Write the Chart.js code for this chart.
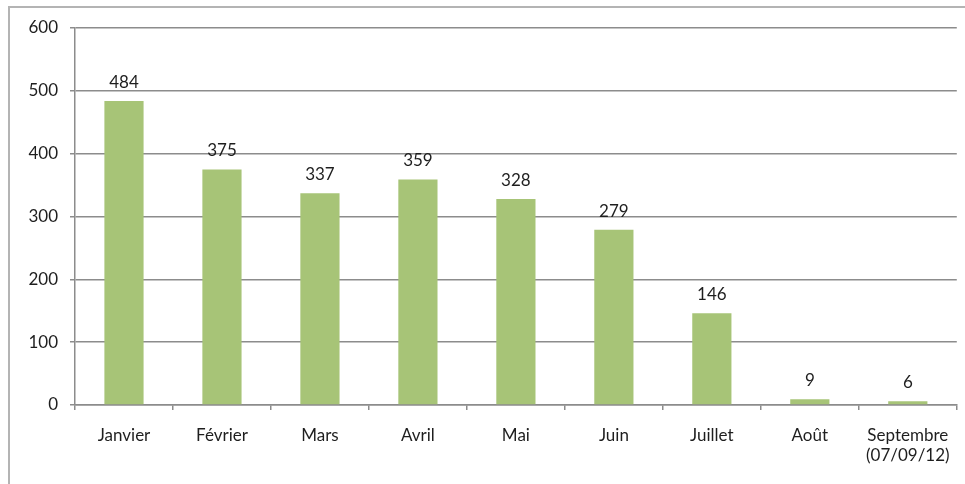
<!DOCTYPE html>
<html>
<head>
<meta charset="utf-8">
<script src="https://cdn.jsdelivr.net/npm/chart.js@4/dist/chart.umd.min.js"></script>
<style>
  html, body { margin: 0; padding: 0; background: #fff; }
  #frame { position: absolute; left: 0; top: 0; width: 965px; height: 484px; }
  #box { position: absolute; left: 8px; top: 6px; width: 980px; height: 500px;
         border-left: 2px solid #b4b4b4; border-top: 2px solid #b4b4b4; }
  canvas { position: absolute; left: 0; top: 0; }
</style>
</head>
<body>
<div id="frame">
  <div id="box"></div>
  <canvas id="canvas" width="965" height="484"></canvas>
</div>
<script>
var months = ["Janvier", "Février", "Mars", "Avril", "Mai", "Juin", "Juillet", "Août", ["Septembre", "(07/09/12)"]]
var counts = [484, 375, 337, 359, 328, 279, 146, 9, 6]
var yTicks = [0, 100, 200, 300, 400, 500, 600]

var fontFamily = "Lato, 'Open Sans', sans-serif"

// value labels above each bar
var barLabels = {
  id: 'barLabels',
  afterDatasetsDraw: function(chart){
    var c = chart.ctx
    var meta = chart.getDatasetMeta(0)
    c.save()
    c.font = "17px " + fontFamily
    c.fillStyle = "#1e1e1e"
    c.textAlign = "center"
    c.textBaseline = "bottom"
    meta.data.forEach(function(bar, i){
      c.fillText(counts[i], bar.x, bar.y - 10)
    })
    c.restore()
  }
}

var ctx = document.getElementById("canvas")
var myChart = new Chart(ctx, {
  type: 'bar',
  data: {
    labels: months,
    datasets: [{
      data: counts,
      backgroundColor: "#a7c477",
      borderWidth: 0,
      barPercentage: 0.4,
      categoryPercentage: 1.0
    }]
  },
  options: {
    responsive: false,
    animation: false,
    layout: { padding: { left: 0, right: 7, top: 28, bottom: 0 } },
    plugins: { legend: { display: false }, tooltip: { enabled: false } },
    scales: {
      x: {
        offset: true,
        grid: { offset: true, drawOnChartArea: false, drawTicks: true, tickLength: 5, color: "#8c8c8c", lineWidth: 1.5 },
        border: { color: "#8c8c8c", width: 1.5 },
        ticks: { color: "#1e1e1e", font: { size: 17, family: fontFamily }, padding: 15, maxRotation: 0, autoSkip: false },
        afterFit: function(scale){ scale.height = 79 }
      },
      y: {
        min: 0, max: 600,
        afterBuildTicks: function(scale){ scale.ticks = yTicks.map(function(v){ return { value: v } }) },
        grid: { color: "#8c8c8c", lineWidth: 1.5, tickLength: 5 },
        border: { color: "#8c8c8c", width: 1.5 },
        ticks: { color: "#1e1e1e", font: { size: 17, family: fontFamily }, padding: 12 },
        afterFit: function(scale){ scale.width = 75 }
      }
    }
  },
  plugins: [barLabels]
})
</script>
</body>
</html>
